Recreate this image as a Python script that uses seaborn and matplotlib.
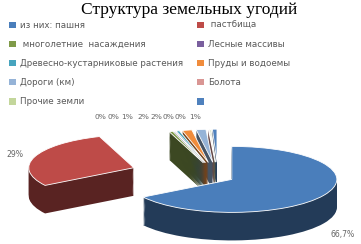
import numpy as np
import matplotlib
matplotlib.use("Agg")
import matplotlib.pyplot as plt
import matplotlib.colors as mcolors
from matplotlib.patches import Patch
import seaborn as sns

# ---- data ----
categories = ["из них: пашня", " пастбища", " многолетние  насаждения", "Лесные массивы",
              "Древесно-кустарниковые растения", "Пруды и водоемы", "Дороги (км)",
              "Болота", "Прочие земли", ""]
values = [66.7, 29.0, 0.6, 0.2, 0.5, 1.5, 1.5, 0.15, 0.2, 0.7]
value_labels = ["66,7%", "29%", "0%", "0%", "1%", "2%", "2%", "0%", "0%", "1%"]
colors = ["#4A7EBB", "#BE4B48", "#7F9A48", "#7A5F9E", "#47A4BE", "#F08C3C",
          "#95B3D7", "#D99694", "#C3D69B", "#4F81BD"]
explode = [0.15, 0.85, 0.45, 0.45, 0.45, 0.45, 0.45, 0.45, 0.45, 0.45]

sns.set_theme(style="white")
plt.rcParams['font.family'] = ['DejaVu Sans']

W, H = 361, 244
fig = plt.figure(figsize=(W / 100, H / 100), dpi=100)
fig.patch.set_facecolor("white")
ax = fig.add_axes([0, 0, 1, 1])

px_x, px_y = 105.0, 33.0       # pixels per data unit
cx, cy = 218.0, 177.0          # pie centre in pixel (from top-left)
depth = 0.85                   # extrusion depth in data units (vertical)

dark = [tuple(np.array(mcolors.to_rgb(c)) * 0.47) for c in colors]

nlayers = 26
for k in range(nlayers, 0, -1):
    ax.pie(values, explode=explode, colors=dark, startangle=90, counterclock=False,
           center=(0, -depth * k / nlayers), radius=1,
           wedgeprops=dict(linewidth=0.0, edgecolor="none"))
wedges, _ = ax.pie(values, explode=explode, colors=colors, startangle=90,
                   counterclock=False, center=(0, 0), radius=1,
                   wedgeprops=dict(linewidth=0.6, edgecolor="white"))

ax.set_aspect("auto")
ax.set_xlim(-cx / px_x, (W - cx) / px_x)
ax.set_ylim(-(H - cy) / px_y, cy / px_y)
ax.axis("off")

# ---- value labels ----
total = sum(values)
start = 90.0
mids = []
for v in values:
    span = 360.0 * v / total
    mids.append(np.deg2rad(start - span / 2))
    start -= span
lab_kw = dict(fontsize=5.6, color="#666666", ha="center", va="center")
# big slices
for i, ld in [(0, 1.2), (1, 1.2)]:
    d = explode[i] + ld
    x, y = d * np.cos(mids[i]), d * np.sin(mids[i])
    if y < 0:
        y -= depth * 1.3
    ax.text(x, y, value_labels[i], **lab_kw)
# small slices: spread above the pie
small_x = [100, 113, 127, 143, 156, 168, 180, 195]
small_kw = dict(lab_kw, fontsize=5.4)
for j, i in enumerate(range(2, len(values))):
    fig.text(small_x[j] / W, 1 - 117 / H, value_labels[i], **small_kw)

# ---- title ----
fig.text(0.523, 1 - 10 / H, "Структура земельных угодий", ha="center", va="center",
         fontsize=12.5, family=["Liberation Serif"], color="black")

# ---- legend (two columns, row-wise) ----
handles = [Patch(facecolor=c, edgecolor="none") for c in colors]
leg_kw = dict(frameon=False, fontsize=6.3, handlelength=0.8, handleheight=0.8,
              handletextpad=0.5, labelspacing=1.15, borderpad=0, borderaxespad=0,
              labelcolor="#595959", loc="upper left")
left = list(range(0, 10, 2))
right = list(range(1, 10, 2))
fig.legend([handles[i] for i in left], [categories[i] for i in left],
           bbox_to_anchor=(9 / W, 1 - 21 / H), **leg_kw)
fig.legend([handles[i] for i in right], [categories[i] for i in right],
           bbox_to_anchor=(197 / W, 1 - 21 / H), **leg_kw)

fig.savefig("out.png", dpi=100, facecolor="white")
